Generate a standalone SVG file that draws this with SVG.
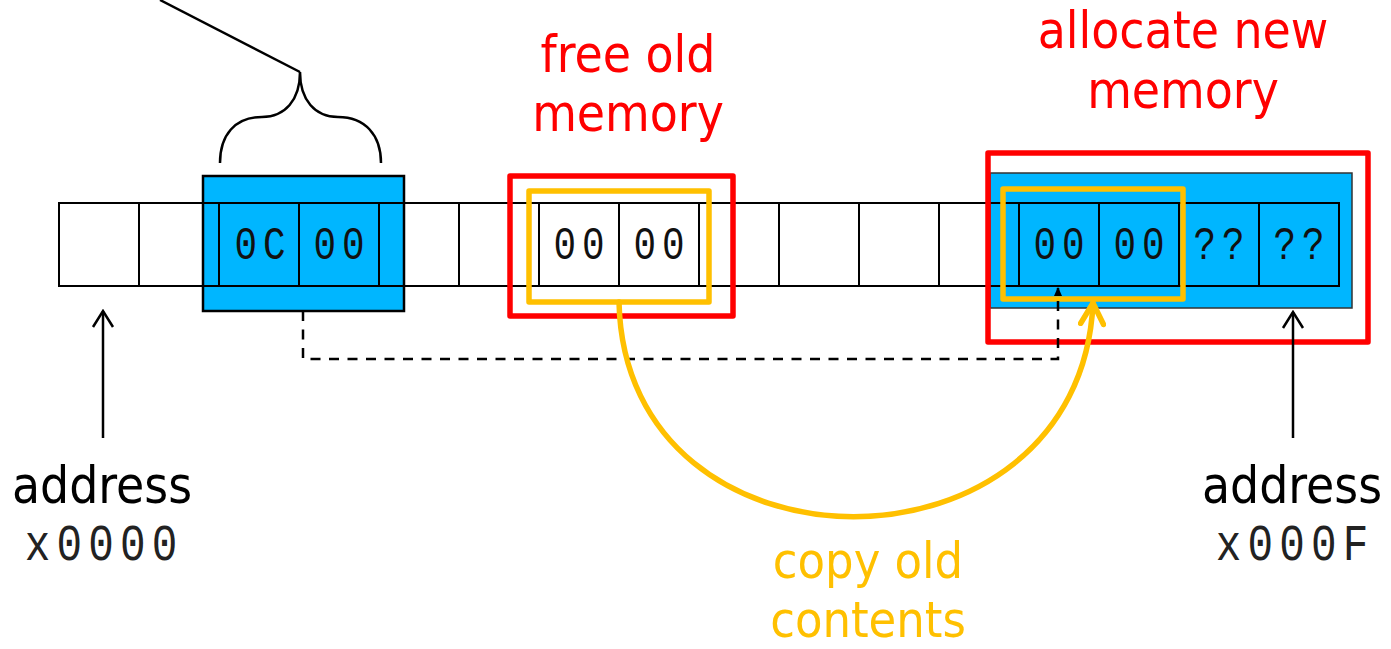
<svg xmlns="http://www.w3.org/2000/svg" width="1391" height="649" viewBox="0 0 1391 649">
  <style>
    .cell { fill: none; stroke: #000; stroke-width: 2; }
    .hex { font-family: "Liberation Mono", "Courier New", monospace; font-size: 47px; letter-spacing: 7.2px; fill: #111; }
    .addr { font-family: "Liberation Mono", "Courier New", monospace; font-size: 52px; letter-spacing: 7.5px; fill: #222; }
    .label { font-family: "DejaVu Sans Condensed", "DejaVu Sans", sans-serif; font-stretch: condensed; font-size: 51px; text-anchor: middle; }
    .red { fill: #FF0000; }
    .gold { fill: #FFC000; }
    .blk { fill: #000; }
    .redbox { fill: none; stroke: #FF0000; stroke-width: 5.5; stroke-linejoin: round; }
    .goldbox { fill: none; stroke: #FFC000; stroke-width: 5.5; stroke-linejoin: round; }
    .pointer { fill: none; stroke: #000; stroke-width: 2.5; }
  </style>
  <defs>
    <marker id="openArrow" viewBox="-18 -12 20 24" markerWidth="20" markerHeight="24" markerUnits="userSpaceOnUse" orient="auto">
      <path d="M-16,-10 L0,0 L-16,10" fill="none" stroke="#000" stroke-width="2.5"/>
    </marker>
    <marker id="goldArrow" viewBox="-24 -14 27 28" markerWidth="27" markerHeight="28" markerUnits="userSpaceOnUse" orient="auto">
      <path d="M-21,-11.5 L0,0 L-21,11.5" fill="none" stroke="#FFC000" stroke-width="5.5" stroke-linecap="round" stroke-linejoin="round"/>
    </marker>
    <marker id="smallHead" viewBox="0 -4 9 8" markerWidth="9" markerHeight="8" markerUnits="userSpaceOnUse" orient="auto" refX="8">
      <path d="M0,-4 L9,0 L0,4 Z" fill="#000"/>
    </marker>
  </defs>

  <!-- highlighted regions behind the memory strip -->
  <g id="old-block">
    <rect x="203" y="176" width="201" height="135" fill="#00B6FF" stroke="#000" stroke-width="2.5"/>
  </g>
  <g id="new-block">
    <rect x="990" y="173" width="362" height="135" fill="#00B6FF" stroke="#333" stroke-width="1.5"/>
  </g>

  <!-- sixteen byte cells, x0000 .. x000F; hex digits narrowed to 80% width -->
  <g id="memory-strip">
    <rect class="cell" x="59" y="203" width="80" height="83"/>
    <rect class="cell" x="139" y="203" width="80" height="83"/>
    <rect class="cell" x="219" y="203" width="80" height="83"/>
    <rect class="cell" x="299" y="203" width="80" height="83"/>
    <rect class="cell" x="379" y="203" width="80" height="83"/>
    <rect class="cell" x="459" y="203" width="80" height="83"/>
    <rect class="cell" x="539" y="203" width="80" height="83"/>
    <rect class="cell" x="619" y="203" width="80" height="83"/>
    <rect class="cell" x="699" y="203" width="80" height="83"/>
    <rect class="cell" x="779" y="203" width="80" height="83"/>
    <rect class="cell" x="859" y="203" width="80" height="83"/>
    <rect class="cell" x="939" y="203" width="80" height="83"/>
    <rect class="cell" x="1019" y="203" width="80" height="83"/>
    <rect class="cell" x="1099" y="203" width="80" height="83"/>
    <rect class="cell" x="1179" y="203" width="80" height="83"/>
    <rect class="cell" x="1259" y="203" width="80" height="83"/>
    <text class="hex" transform="translate(260 259) scale(0.8 1)" x="-31.8">0C</text>
    <text class="hex" transform="translate(339 259) scale(0.8 1)" x="-31.8">00</text>
    <text class="hex" transform="translate(579 259) scale(0.8 1)" x="-31.8">00</text>
    <text class="hex" transform="translate(659 259) scale(0.8 1)" x="-31.8">00</text>
    <text class="hex" transform="translate(1059 259) scale(0.8 1)" x="-31.8">00</text>
    <text class="hex" transform="translate(1139 259) scale(0.8 1)" x="-31.8">00</text>
    <text class="hex" transform="translate(1219 259) scale(0.8 1)" x="-31.8">??</text>
    <text class="hex" transform="translate(1299 259) scale(0.8 1)" x="-31.8">??</text>
  </g>

  <!-- brace over the pointer bytes, with its leader line -->
  <g id="pointer-brace">
    <path class="pointer" d="M160,0 L300,72"/>
    <path class="pointer" d="M220,163 C220,135 235,117 262,117 C285,117 300,100 300,72 C300,100 315,117 338,117 C365,117 381,135 381,163"/>
  </g>

  <g id="free-region">
    <rect class="redbox" x="510" y="176" width="223" height="140"/>
    <text class="label red" x="628" y="72">free old</text>
    <text class="label red" x="628" y="131">memory</text>
  </g>

  <g id="alloc-region">
    <rect class="redbox" x="988" y="153" width="380" height="189"/>
    <text class="label red" x="1183" y="48">allocate new</text>
    <text class="label red" x="1183" y="108">memory</text>
  </g>

  <g id="old-contents">
    <rect class="goldbox" x="529" y="191" width="180" height="111"/>
  </g>
  <g id="new-contents">
    <rect class="goldbox" x="1003" y="189" width="180" height="110"/>
  </g>

  <g id="copy-label">
    <text class="label gold" x="868" y="578" style="font-size:50px">copy old</text>
    <text class="label gold" x="868" y="637" style="font-size:50px">contents</text>
  </g>

  <g id="addr-start">
    <text class="label blk" x="102" y="503">address</text>
    <text class="addr" transform="translate(101 560) scale(0.82 1)" x="-93">x0000</text>
  </g>
  <g id="addr-end">
    <text class="label blk" x="1292" y="503">address</text>
    <text class="addr" transform="translate(1292 560) scale(0.82 1)" x="-93">x000F</text>
  </g>

  <!-- connectors -->
  <g id="connectors">
    <path d="M303,311 L303,359 L1058,359 L1058,288" fill="none" stroke="#000" stroke-width="2.5" stroke-dasharray="10 8.5" marker-end="url(#smallHead)"/>
    <path d="M619,302 C625,588 1080,588 1093,303" fill="none" stroke="#FFC000" stroke-width="5.5" stroke-linecap="round" marker-end="url(#goldArrow)"/>
    <path d="M103,438 L103,311" fill="none" stroke="#000" stroke-width="2.5" marker-end="url(#openArrow)"/>
    <path d="M1293,438 L1293,312" fill="none" stroke="#000" stroke-width="2.5" marker-end="url(#openArrow)"/>
  </g>
</svg>
